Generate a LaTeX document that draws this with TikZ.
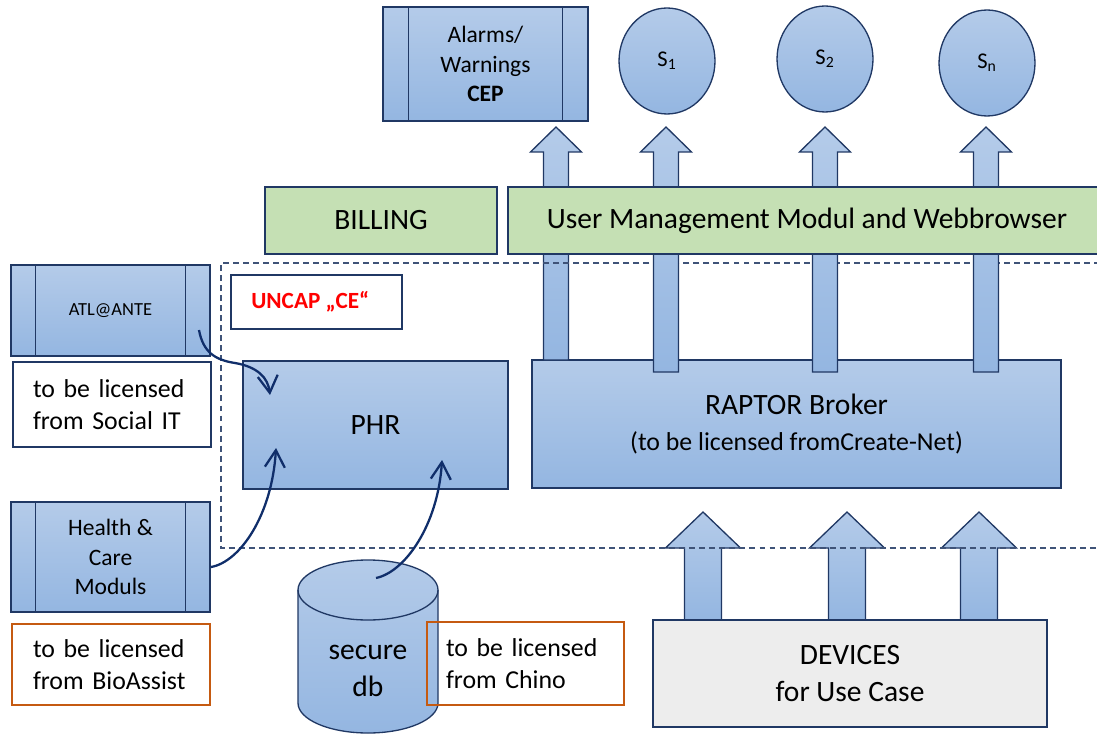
\documentclass[tikz,border=0pt]{standalone}
\usepackage{fontspec}
\setmainfont{Carlito}
\usetikzlibrary{arrows.meta,shapes.geometric}
\definecolor{navy}{HTML}{203864}
\definecolor{cnavy}{HTML}{102E6A}
\definecolor{bTop}{HTML}{B4CBE9}
\definecolor{bBot}{HTML}{94B6E1}
\definecolor{gfill}{HTML}{C5E0B4}
\definecolor{ornge}{HTML}{C55A11}
\definecolor{devfill}{HTML}{EDEDED}
\definecolor{dashc}{HTML}{3F5378}
\newcommand\upblk[6]{%
  \path[blk] (#1-#5,#2) -- (#1-#5,#3) -- (#1-#6,#3) -- (#1,#4) -- (#1+#6,#3) -- (#1+#5,#3) -- (#1+#5,#2) -- cycle;}
\begin{document}
\begin{tikzpicture}[x=0.02cm,y=-0.02cm,
  lw/.style={line width=0.75pt},
  sz/.style 2 args={minimum width=#1, minimum height=#2},
  box/.style={draw=navy, lw, top color=bTop, bottom color=bBot, inner sep=0pt, text=black},
  gbox/.style={draw=navy, lw, fill=gfill, inner sep=0pt},
  wbox/.style={draw=navy, lw, fill=white, inner sep=0pt},
  obox/.style={draw=ornge, lw, inner sep=0pt},
  blk/.style={draw=navy, lw, top color=bTop, bottom color=bBot},
  curve/.style={draw=cnavy, line width=1.3pt, -{Straight Barb[length=3.4mm,width=4mm,line width=1.3pt]}},
  dashline/.style={draw=dashc, line width=0.8pt, dash pattern=on 3.4pt off 2.3pt},
  big/.style={font=\fontsize{16.8}{21.5}\selectfont},
  mid/.style={font=\fontsize{14.7}{18.5}\selectfont},
  sml/.style={font=\fontsize{13.4}{16.6}\selectfont},
  tiny/.style={font=\fontsize{10.5}{13}\selectfont}]
\useasboundingbox (0,0) rectangle (1097,736);

% RAPTOR broker
\node[box, sz={10.58cm}{2.56cm}, align=center, big] (raptor) at (796.5,424)
  {RAPTOR Broker\\[-1pt]{\fontsize{14.7}{18}\selectfont (to be licensed fromCreate-Net)}};
\upblk{556}{360}{152}{127}{12.5}{25.5}

% lower block arrows (devices -> broker)
\upblk{703}{620}{548}{512}{18.5}{37.5}
\upblk{847}{620}{548}{512}{18.5}{37.5}
\upblk{979}{620}{548}{512}{18.5}{37.5}

% dashed region
\draw[dashline] (1110,263) -- (221,263) -- (221,548) -- (1110,548);

\upblk{666}{372}{152}{127}{12.5}{25.5}
\upblk{825}{372}{152}{127}{12.5}{25.5}
\upblk{986}{372}{152}{127}{12.5}{25.5}

% green bars
\node[gbox, sz={4.64cm}{1.34cm}, big] (billing) at (381,220.5) {BILLING};
\node[gbox, sz={11.96cm}{1.34cm}, big] (usermgmt) at (807,220.5) {User Management Modul and Webbrowser};

% top row
\node[box, sz={4.1cm}{2.28cm}, sml, align=center] (alarms) at (485.5,64) {Alarms/\\Warnings\\\textbf{CEP}};
\draw[navy, lw] ([xshift=0.52cm]alarms.north west) -- ([xshift=0.52cm]alarms.south west);
\draw[navy, lw] ([xshift=-0.52cm]alarms.north east) -- ([xshift=-0.52cm]alarms.south east);
\node[box, ellipse, sz={1.92cm}{2.12cm}, font=\fontsize{12.8}{15}\selectfont] (s1) at (667,61) {S\textsubscript{1}};
\node[box, ellipse, sz={1.92cm}{2.12cm}, font=\fontsize{12.8}{15}\selectfont] (s2) at (825,59) {S\textsubscript{2}};
\node[box, ellipse, sz={1.92cm}{2.12cm}, font=\fontsize{12.8}{15}\selectfont] (sn) at (987,63) {S\textsubscript{n}};

% UNCAP label
\node[wbox, sz={3.42cm}{1.08cm}, font=\fontsize{13.2}{16}\selectfont\bfseries, text=red] (uncap) at (316.5,302) {\hspace*{-0.25cm}UNCAP „CE“};

% PHR
\node[box, sz={5.3cm}{2.56cm}, big] (phr) at (375.5,425) {PHR};

% left column
\node[box, sz={3.98cm}{1.82cm}, tiny] (atl) at (110.5,310.5) {ATL@ANTE};
\draw[navy, lw] ([xshift=0.5cm]atl.north west) -- ([xshift=0.5cm]atl.south west);
\draw[navy, lw] ([xshift=-0.5cm]atl.north east) -- ([xshift=-0.5cm]atl.south east);
\node[wbox, sz={3.96cm}{1.7cm}, mid, text width=3.16cm, align=left] (social) at (112,404.5) {to be licensed\\from Social IT};

\node[box, sz={3.98cm}{2.2cm}, sml, align=center] (health) at (110.5,557) {Health \&\\Care\\Moduls};
\draw[navy, lw] ([xshift=0.5cm]health.north west) -- ([xshift=0.5cm]health.south west);
\draw[navy, lw] ([xshift=-0.5cm]health.north east) -- ([xshift=-0.5cm]health.south east);
\node[obox, sz={3.96cm}{1.62cm}, mid, text width=3.12cm, align=left] (bio) at (111,664.5) {to be licensed\\from BioAssist};

% secure db cylinder
\path[blk] (298,590) -- (298,703) .. controls (298,719.6) and (329.3,733) .. (368,733)
  .. controls (406.7,733) and (438,719.6) .. (438,703) -- (438,590)
  .. controls (438,573.4) and (406.7,560) .. (368,560)
  .. controls (329.3,560) and (298,573.4) .. cycle;
\draw[navy, lw] (298,590) .. controls (298,606.6) and (329.3,620) .. (368,620)
  .. controls (406.7,620) and (438,606.6) .. (438,590);
\node[big, align=center] (db) at (368,671) {secure\\db};
\node[obox, sz={3.94cm}{1.66cm}, mid, text width=3.18cm, align=left] (chino) at (525.5,663.5) {to be licensed\\from Chino};

% devices
\node[draw=navy, lw, fill=devfill, inner sep=0pt, sz={7.88cm}{2.14cm}, big, align=center] (dev) at (850,673.5) {DEVICES\\for Use Case};

% curved connectors
\coordinate (c1s) at (199,330);
\coordinate (c1e) at (270,395);
\coordinate (c2s) at (211,567);
\coordinate (c2e) at (276,448);
\coordinate (c3s) at (376,578);
\coordinate (c3e) at (442,460);
\draw[curve] (c1s) .. controls (203,352) and (215,360) .. (235,363)
  .. controls (258,367) and (268,378) .. (c1e);
\draw[curve] (c2s) .. controls (240,562) and (272,515) .. (c2e);
\draw[curve] (c3s) .. controls (405,572) and (438,525) .. (c3e);
\end{tikzpicture}
\end{document}
